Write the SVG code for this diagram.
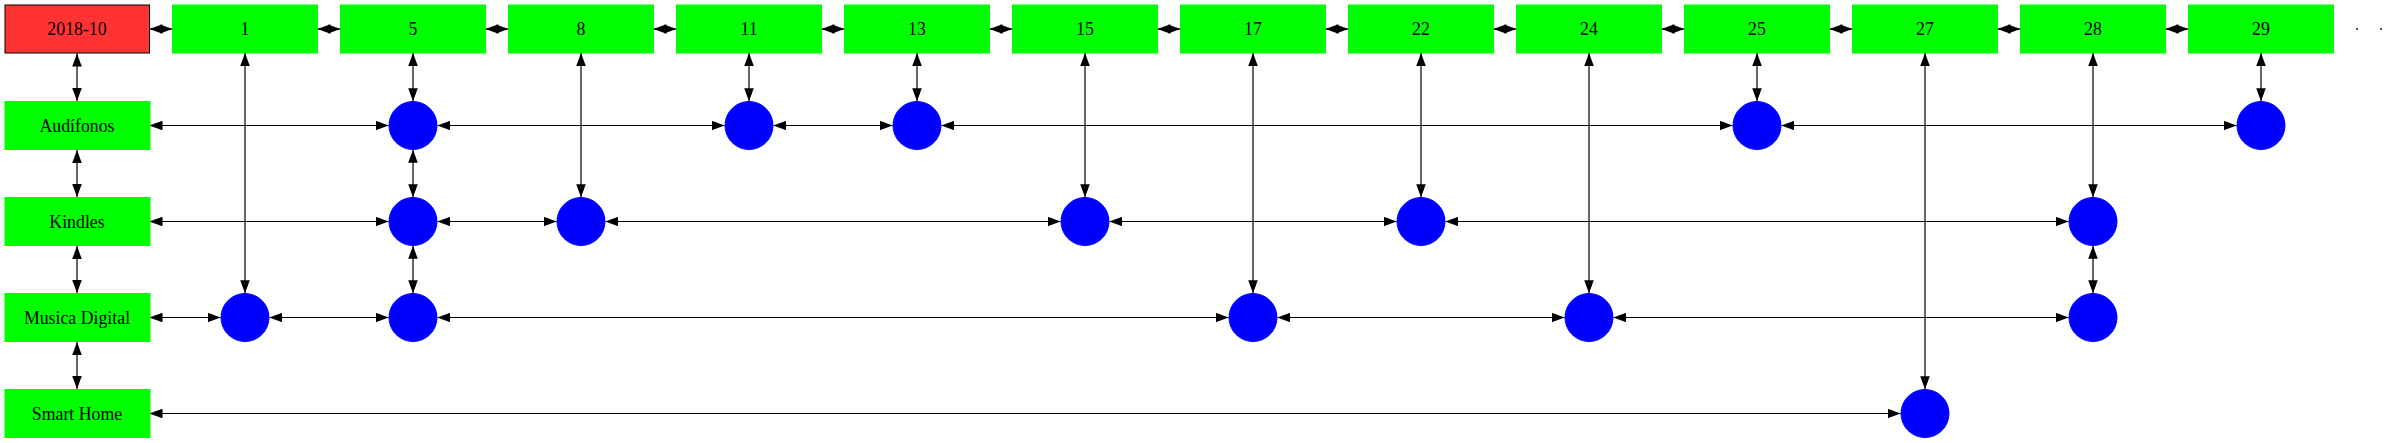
<svg xmlns="http://www.w3.org/2000/svg" width="2387" height="443" viewBox="0 0 2387 443">
<defs>
<marker id="ah" viewBox="0 0 13 9.6" refX="13" refY="4.8" markerWidth="13" markerHeight="9.6" markerUnits="userSpaceOnUse" orient="auto-start-reverse"><path d="M0,0 L13,4.8 L0,9.6 z" fill="#000"/></marker>
</defs>
<style>
.b{fill:#00ff00;stroke:#00ff00;stroke-width:1}
.r{fill:#ff3333;stroke:#000;stroke-width:1}
.c{fill:#0000ff;stroke:#0000ff;stroke-width:1}
.t{font-family:"Liberation Serif","Times New Roman",serif;font-size:17.8px;fill:#000;text-anchor:middle}
.e line{stroke:#000;stroke-width:1.2;marker-start:url(#ah);marker-end:url(#ah)}
</style>
<rect width="2387" height="443" fill="#fff"/>
<g id="connectors" class="e">
<line x1="149.5" y1="29" x2="172.5" y2="29"/>
<line x1="317.5" y1="29" x2="340.5" y2="29"/>
<line x1="485.5" y1="29" x2="508.5" y2="29"/>
<line x1="653.5" y1="29" x2="676.5" y2="29"/>
<line x1="821.5" y1="29" x2="844.5" y2="29"/>
<line x1="989.5" y1="29" x2="1012.5" y2="29"/>
<line x1="1157.5" y1="29" x2="1180.5" y2="29"/>
<line x1="1325.5" y1="29" x2="1348.5" y2="29"/>
<line x1="1493.5" y1="29" x2="1516.5" y2="29"/>
<line x1="1661.5" y1="29" x2="1684.5" y2="29"/>
<line x1="1829.5" y1="29" x2="1852.5" y2="29"/>
<line x1="1997.5" y1="29" x2="2020.5" y2="29"/>
<line x1="2165.5" y1="29" x2="2188.5" y2="29"/>
<line x1="77" y1="53.5" x2="77" y2="101"/>
<line x1="77" y1="150" x2="77" y2="197"/>
<line x1="77" y1="246" x2="77" y2="293"/>
<line x1="77" y1="342" x2="77" y2="389"/>
<line x1="245" y1="53" x2="245" y2="293.2"/>
<line x1="413" y1="53" x2="413" y2="101.2"/>
<line x1="413" y1="149.8" x2="413" y2="197.2"/>
<line x1="413" y1="245.8" x2="413" y2="293.2"/>
<line x1="581" y1="53" x2="581" y2="197.2"/>
<line x1="749" y1="53" x2="749" y2="101.2"/>
<line x1="917" y1="53" x2="917" y2="101.2"/>
<line x1="1085" y1="53" x2="1085" y2="197.2"/>
<line x1="1253" y1="53" x2="1253" y2="293.2"/>
<line x1="1421" y1="53" x2="1421" y2="197.2"/>
<line x1="1589" y1="53" x2="1589" y2="293.2"/>
<line x1="1757" y1="53" x2="1757" y2="101.2"/>
<line x1="1925" y1="53" x2="1925" y2="389.2"/>
<line x1="2093" y1="53" x2="2093" y2="197.2"/>
<line x1="2093" y1="245.8" x2="2093" y2="293.2"/>
<line x1="2261" y1="53" x2="2261" y2="101.2"/>
<line x1="149.5" y1="125.5" x2="388.7" y2="125.5"/>
<line x1="437.3" y1="125.5" x2="724.7" y2="125.5"/>
<line x1="773.3" y1="125.5" x2="892.7" y2="125.5"/>
<line x1="941.3" y1="125.5" x2="1732.7" y2="125.5"/>
<line x1="1781.3" y1="125.5" x2="2236.7" y2="125.5"/>
<line x1="149.5" y1="221.5" x2="388.7" y2="221.5"/>
<line x1="437.3" y1="221.5" x2="556.7" y2="221.5"/>
<line x1="605.3" y1="221.5" x2="1060.7" y2="221.5"/>
<line x1="1109.3" y1="221.5" x2="1396.7" y2="221.5"/>
<line x1="1445.3" y1="221.5" x2="2068.7" y2="221.5"/>
<line x1="149.5" y1="317.5" x2="220.7" y2="317.5"/>
<line x1="269.3" y1="317.5" x2="388.7" y2="317.5"/>
<line x1="437.3" y1="317.5" x2="1228.7" y2="317.5"/>
<line x1="1277.3" y1="317.5" x2="1564.7" y2="317.5"/>
<line x1="1613.3" y1="317.5" x2="2068.7" y2="317.5"/>
<line x1="149.5" y1="413.5" x2="1900.7" y2="413.5"/>
</g>
<g id="n_2018-10"><rect class="r" x="5" y="5" width="144.5" height="48"/><text class="t" x="77" y="35">2018-10</text></g>
<g id="n_1"><rect class="b" x="172.5" y="5" width="145" height="48"/><text class="t" x="245" y="35">1</text></g>
<g id="n_5"><rect class="b" x="340.5" y="5" width="145" height="48"/><text class="t" x="413" y="35">5</text></g>
<g id="n_8"><rect class="b" x="508.5" y="5" width="145" height="48"/><text class="t" x="581" y="35">8</text></g>
<g id="n_11"><rect class="b" x="676.5" y="5" width="145" height="48"/><text class="t" x="749" y="35">11</text></g>
<g id="n_13"><rect class="b" x="844.5" y="5" width="145" height="48"/><text class="t" x="917" y="35">13</text></g>
<g id="n_15"><rect class="b" x="1012.5" y="5" width="145" height="48"/><text class="t" x="1085" y="35">15</text></g>
<g id="n_17"><rect class="b" x="1180.5" y="5" width="145" height="48"/><text class="t" x="1253" y="35">17</text></g>
<g id="n_22"><rect class="b" x="1348.5" y="5" width="145" height="48"/><text class="t" x="1421" y="35">22</text></g>
<g id="n_24"><rect class="b" x="1516.5" y="5" width="145" height="48"/><text class="t" x="1589" y="35">24</text></g>
<g id="n_25"><rect class="b" x="1684.5" y="5" width="145" height="48"/><text class="t" x="1757" y="35">25</text></g>
<g id="n_27"><rect class="b" x="1852.5" y="5" width="145" height="48"/><text class="t" x="1925" y="35">27</text></g>
<g id="n_28"><rect class="b" x="2020.5" y="5" width="145" height="48"/><text class="t" x="2093" y="35">28</text></g>
<g id="n_29"><rect class="b" x="2188.5" y="5" width="145" height="48"/><text class="t" x="2261" y="35">29</text></g>
<g id="n_dot1"><circle cx="2357" cy="29" r="0.9" fill="#000"/></g>
<g id="n_dot2"><circle cx="2381" cy="29" r="0.9" fill="#000"/></g>
<g id="n_audifonos"><rect class="b" x="5" y="101.5" width="145" height="48"/><text class="t" x="77" y="131.5">Audífonos</text></g>
<g id="n_kindles"><rect class="b" x="5" y="197.5" width="145" height="48"/><text class="t" x="77" y="227.5">Kindles</text></g>
<g id="n_musica"><rect class="b" x="5" y="293.5" width="145" height="48"/><text class="t" x="77" y="323.5">Musica Digital</text></g>
<g id="n_smart"><rect class="b" x="5" y="389.5" width="145" height="48"/><text class="t" x="77" y="419.5">Smart Home</text></g>
<g id="c_aud_5"><circle class="c" cx="413" cy="125.5" r="24"/></g>
<g id="c_aud_11"><circle class="c" cx="749" cy="125.5" r="24"/></g>
<g id="c_aud_13"><circle class="c" cx="917" cy="125.5" r="24"/></g>
<g id="c_aud_25"><circle class="c" cx="1757" cy="125.5" r="24"/></g>
<g id="c_aud_29"><circle class="c" cx="2261" cy="125.5" r="24"/></g>
<g id="c_kin_5"><circle class="c" cx="413" cy="221.5" r="24"/></g>
<g id="c_kin_8"><circle class="c" cx="581" cy="221.5" r="24"/></g>
<g id="c_kin_15"><circle class="c" cx="1085" cy="221.5" r="24"/></g>
<g id="c_kin_22"><circle class="c" cx="1421" cy="221.5" r="24"/></g>
<g id="c_kin_28"><circle class="c" cx="2093" cy="221.5" r="24"/></g>
<g id="c_mus_1"><circle class="c" cx="245" cy="317.5" r="24"/></g>
<g id="c_mus_5"><circle class="c" cx="413" cy="317.5" r="24"/></g>
<g id="c_mus_17"><circle class="c" cx="1253" cy="317.5" r="24"/></g>
<g id="c_mus_24"><circle class="c" cx="1589" cy="317.5" r="24"/></g>
<g id="c_mus_28"><circle class="c" cx="2093" cy="317.5" r="24"/></g>
<g id="c_sma_27"><circle class="c" cx="1925" cy="413.5" r="24"/></g>
</svg>
